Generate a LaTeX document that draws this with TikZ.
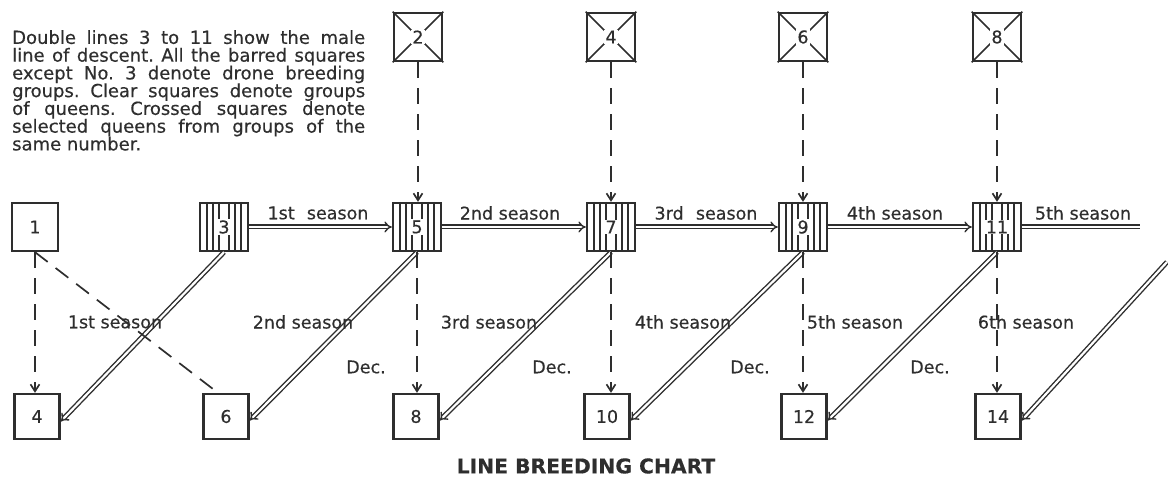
\documentclass[tikz,border=0pt]{standalone}
\usepackage{fontspec}
\setmainfont{DejaVu Sans}[FakeBold=0.4]
\usetikzlibrary{arrows.meta}
\definecolor{ink}{RGB}{46,46,46}
\newcommand\tightlines{\lineskiplimit -20pt\relax}

\begin{document}
\frenchspacing
\begin{tikzpicture}[x=1pt,y=-1pt,
  txt/.style={text=ink, font=\fontsize{17.5}{17.7}\selectfont, inner sep=0pt},
  para/.style={txt, font=\fontsize{18}{17.75}\selectfont\tightlines, align=left},
  crossbox/.style={draw=ink, line width=2.6pt, minimum size=48pt, inner sep=0pt},
  barbox/.style={draw=ink, line width=2.3pt, minimum size=48pt, inner sep=0pt},
  clearbox/.style={draw=ink, line width=2.3pt, minimum size=45pt, inner sep=0pt},
  num/.style={txt, fill=white, inner sep=1pt},
  bar/.style={draw=ink, line width=1.5pt},
  diag/.style={draw=ink, line width=1.5pt},
  male/.style={draw=ink, line width=1.4pt, double=white, double distance=2.2pt},
  malearrow/.style={male, -{Implies[scale=2]}},
  dashline/.style={draw=ink, line width=1.7pt, dash pattern=on 16pt off 10pt},
  dasharrow/.style={dashline, -{Straight Barb[length=7pt,width=9pt,line width=1.7pt]}},
]
\useasboundingbox (0,0) rectangle (1168,486);

% explanatory note
\node[para, anchor=north west] (note) at (12,30) {%
\makebox[353pt][s]{Double lines 3 to 11 show the male}\\
\makebox[353pt][s]{line of descent. All the barred squares}\\
\makebox[353pt][s]{except No. 3 denote drone breeding}\\
\makebox[353pt][s]{groups. Clear squares denote groups}\\
\makebox[353pt][s]{of queens. Crossed squares denote}\\
\makebox[353pt][s]{selected queens from groups of the}\\
same number.};

% crossed squares: selected queens
\foreach \n/\x in {2/418,4/611,6/803,8/997}{
  \node[crossbox] (t\n) at (\x,37) {};
  \draw[diag] (t\n.north west) -- (t\n.south east) (t\n.north east) -- (t\n.south west);
  \node[num] at (t\n) {\n};
}

% barred squares: drone breeding groups
\foreach \n/\x in {3/224,5/417,7/611,9/803,11/997}{
  \node[barbox] (b\n) at (\x,227) {};
  \foreach \d in {-17,-11,-5,5,11,17}
    \draw[bar] ([xshift=\d pt]b\n.north) -- ([xshift=\d pt]b\n.south);
  \node[num] at (b\n) {\n};
}

% clear squares: groups of queens
\node[clearbox, minimum width=46pt, minimum height=48pt] (b1) at (35,227) {};
\node[txt] at (b1) {1};
\foreach \n/\x in {4/37,6/226,8/416,10/607,12/804,14/998}{
  \node[clearbox] (q\n) at (\x,416.5) {};
  \node[txt] at (q\n) {\n};
}

% male line of descent
\draw[malearrow] (b3.east) -- (b5.west);
\draw[malearrow] (b5.east) -- (b7.west);
\draw[malearrow] (b7.east) -- (b9.west);
\draw[malearrow] (b9.east) -- (b11.west);
\coordinate (end5) at (1140,227);
\draw[male] (b11.east) -- (end5);

\node[txt] at (318,213) {1st\hspace{0.7em}season};
\node[txt] at (510,213) {2nd season};
\node[txt] at (706,213) {3rd\hspace{0.7em}season};
\node[txt] at (895,213) {4th season};
\node[txt] at (1083,213) {5th season};

% drones to the next queen groups
\draw[malearrow] (b3.south) -- ([yshift=-5pt]q4.east);
\draw[malearrow] (b5.south) -- ([yshift=-4pt]q6.east);
\draw[malearrow] (b7.south) -- ([yshift=-4pt]q8.east);
\draw[malearrow] (b9.south) -- ([yshift=-4pt]q10.east);
\draw[malearrow] (b11.south) -- ([yshift=-4pt]q12.east);
\coordinate (in14) at (1167,262);
\draw[malearrow] (in14) -- ([yshift=-4pt]q14.east);

% queen descent
\draw[dasharrow] (b1.south) -- (b1.south |- q4.north);
\draw[dashline] (b1.south) -- ([xshift=-8pt]q6.north);
\foreach \a/\b/\c in {2/5/8,4/7/10,6/9/12,8/11/14}{
  \draw[dasharrow] (t\a.south) -- (t\a.south |- b\b.north);
  \draw[dasharrow] (b\b.south) -- (b\b.south |- q\c.north);
}

\node[txt] at (115,322) {1st season};
\node[txt] at (303,322) {2nd season};
\node[txt] at (489,322) {3rd season};
\node[txt] at (683,322) {4th season};
\node[txt] at (855,322) {5th season};
\node[txt] at (1026,322) {6th season};

\node[txt] at (366,367) {Dec.};
\node[txt] at (552,367) {Dec.};
\node[txt] at (750,367) {Dec.};
\node[txt] at (930,367) {Dec.};

% title
\node[txt, font=\bfseries\fontsize{20.3}{20.3}\selectfont] (title) at (586,466) {LINE BREEDING CHART};
\end{tikzpicture}
\end{document}
